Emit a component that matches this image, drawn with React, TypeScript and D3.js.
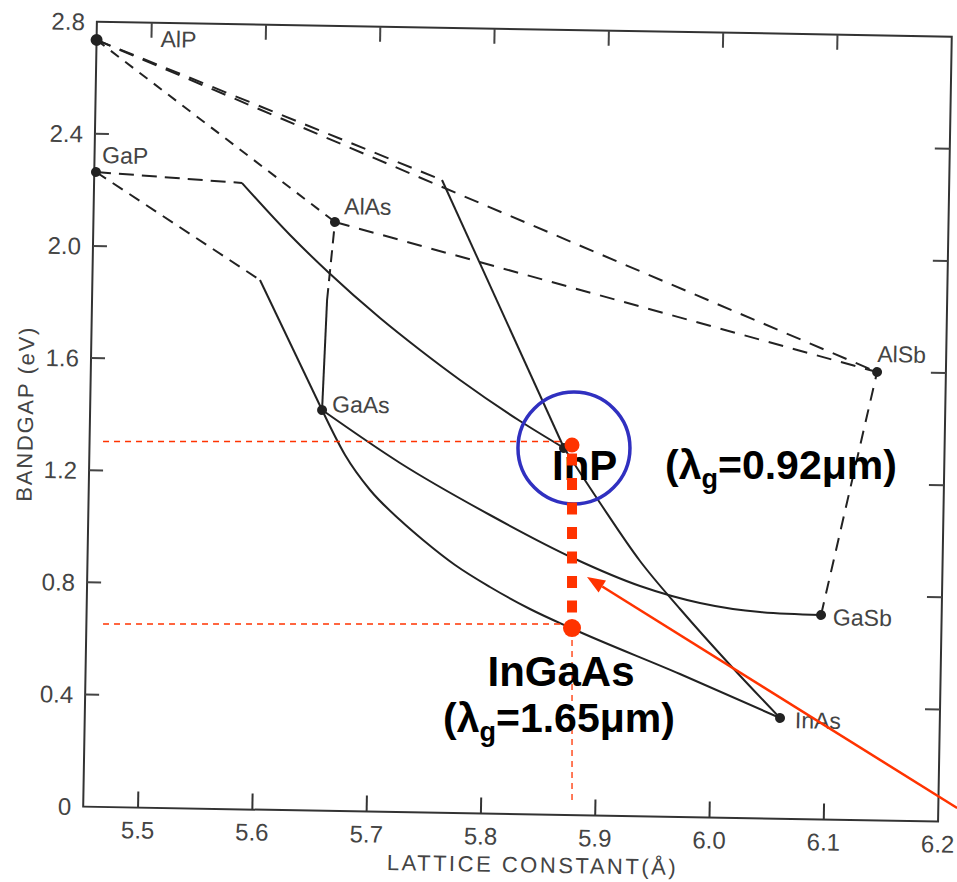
import React from "react";
import * as d3 from "d3";

// ---------- data (lattice constant in Å, bandgap in eV) ----------
const compoundNames = ["AlP", "GaP", "AlAs", "GaAs", "AlSb", "GaSb", "InAs", "InP"];
const compoundLattice = [5.452, 5.4535, 5.6633, 5.6549, 6.1398, 6.0945, 6.0602, 5.8671];
const compoundGap = [2.735, 2.264, 2.1006, 1.4293, 1.5993, 0.7293, 0.3594, 1.3088];

const xTickValues = [5.5, 5.6, 5.7, 5.8, 5.9, 6.0, 6.1, 6.2];
const xTickLabels = ["5.5", "5.6", "5.7", "5.8", "5.9", "6.0", "6.1", "6.2"];
const yTickValues = [0, 0.4, 0.8, 1.2, 1.6, 2.0, 2.4, 2.8];
const yTickLabels = ["0", "0.4", "0.8", "1.2", "1.6", "2.0", "2.4", "2.8"];

// ternary curves, [lattice, eV]
const AlP_AlSb = [[5.452, 2.735], [6.1398, 1.5993]];
const AlP_InP_indirect = [[5.452, 2.735], [5.7563, 2.257]];
const AlP_InP_direct = [[5.7563, 2.257], [5.8671, 1.3088]];
const AlP_AlAs = [[5.452, 2.735], [5.6633, 2.1006]];
const AlAs_AlSb = [[5.6633, 2.1006], [6.1398, 1.5993]];
const AlAs_GaAs_indirect = [[5.6633, 2.1006], [5.6576, 1.8219]];
const AlAs_GaAs_direct = [[5.6576, 1.8219], [5.6549, 1.4293]];
const AlSb_GaSb = [[6.1398, 1.5993], [6.0945, 0.7293]];
const GaP_InP_indirect = [[5.4535, 2.264], [5.5814, 2.2339]];
const GaP_InP_direct = [
  [5.5814, 2.2339], [5.6242, 2.0514], [5.658, 1.9218], [5.7042, 1.761],
  [5.7397, 1.6494], [5.7751, 1.5449], [5.8282, 1.4024], [5.8671, 1.3088],
];
const GaP_GaAs_indirect = [[5.4535, 2.264], [5.5986, 1.889]];
const GaP_GaAs_direct = [[5.5986, 1.889], [5.6549, 1.4293]];
const GaAs_InAs = [
  [5.6549, 1.4293], [5.6757, 1.2703], [5.6981, 1.147], [5.7248, 1.0418],
  [5.7452, 0.972], [5.7736, 0.8848], [5.8045, 0.8085], [5.8398, 0.7326],
  [5.8778, 0.6639], [5.972, 0.5101], [6.0602, 0.3594],
];
const GaAs_GaSb = [
  [5.6549, 1.4293], [5.7239, 1.2452], [5.8034, 1.0653], [5.8767, 0.9171],
  [5.9357, 0.8214], [5.9884, 0.7646], [6.0411, 0.7362], [6.0945, 0.7293],
];
const InP_InAs = [
  [5.8671, 1.3088], [5.8995, 1.1149], [5.9353, 0.9106], [5.9711, 0.7419],
  [6.0157, 0.5453], [6.0602, 0.3594],
];

// overlay annotation values
const markerLattice = 5.8737;
const markerGaps = [1.3162, 0.6634]; // InP, InGaAs
const guideGaps = [1.3287, 0.6777];
const guideLattice = [5.4634, 5.8676];
const dropGaps = [0.6206, 0.0499];
const circleCenter = [5.8754, 1.3055];
const arrowTail = [6.2106, 0.0214];
const arrowTip = [5.8868, 0.8453];

// ---------- layout / style ----------
const curves = [
  { pts: AlP_AlSb, dash: "15,10" },
  { pts: AlP_InP_indirect, dash: "15,10" },
  { pts: AlP_InP_direct, dash: null },
  { pts: AlP_AlAs, dash: "10,8" },
  { pts: AlAs_AlSb, dash: "15,10" },
  { pts: AlAs_GaAs_indirect, dash: "12,7" },
  { pts: AlAs_GaAs_direct, dash: null },
  { pts: AlSb_GaSb, dash: "13,9" },
  { pts: GaP_InP_indirect, dash: "15,8" },
  { pts: GaP_InP_direct, dash: null },
  { pts: GaP_GaAs_indirect, dash: "12,8" },
  { pts: GaP_GaAs_direct, dash: null },
  { pts: GaAs_InAs, dash: null },
  { pts: GaAs_GaSb, dash: null },
  { pts: InP_InAs, dash: null },
];

const labelOffsets: Record<string, [number, number]> = {
  AlP: [64, 6],
  GaP: [6, -9],
  AlAs: [9, -8],
  GaAs: [10, 2],
  AlSb: [0, -10],
  GaSb: [12, 10],
  InAs: [15, 10],
};

const RED = "#ff3300";
const INK = "#222";
const SCAN_TEXT = "#444";
const FONT = "'Liberation Sans', Arial, Helvetica, sans-serif";

export default function App() {
  const x = d3.scaleLinear().domain([5.452, 6.2]).range([90, 945]);
  const y = d3.scaleLinear().domain([0, 2.8]).range([814, 29]);

  const curveGen = (pts: number[][]) => {
    const sorted = pts[0][0] <= pts[pts.length - 1][0] ? pts : pts.slice().reverse();
    return (
      d3
        .line<number[]>()
        .x((d) => x(d[0]))
        .y((d) => y(d[1]))
        .curve(d3.curveMonotoneX)(sorted) || ""
    );
  };

  const x0 = x(5.452);
  const x1 = x(6.2);
  const yTop = y(2.8);
  const yBot = y(0);

  // arrow geometry
  const tx = x(arrowTip[0]);
  const ty = y(arrowTip[1]);
  const sx = x(arrowTail[0]);
  const sy = y(arrowTail[1]);
  const len = Math.hypot(tx - sx, ty - sy);
  const ux = (tx - sx) / len;
  const uy = (ty - sy) / len;
  const headLen = 18;
  const headHalf = 7;
  const bx = tx - ux * headLen;
  const by = ty - uy * headLen;
  const nx = -uy;
  const ny = ux;

  const mX = x(markerLattice);

  return (
    <svg
      width={957}
      height={882}
      style={{ position: "absolute", left: 0, top: 0, background: "#fff" }}
    >
      <rect x={0} y={0} width={957} height={882} fill="#fff" />
      {/* scanned chart, slightly rotated like the scan */}
      <g transform="rotate(1, 510, 420)">
        {/* frame */}
        <rect x={x0} y={yTop} width={x1 - x0} height={yBot - yTop} fill="none" stroke="#333" strokeWidth={2} />
        {/* ticks */}
        {xTickValues.slice(0, -1).map((v) => (
          <g key={"xt" + v}>
            <line x1={x(v)} x2={x(v)} y1={yBot} y2={yBot - 16} stroke="#333" strokeWidth={2} />
            <line x1={x(v)} x2={x(v)} y1={yTop} y2={yTop + 15} stroke="#444" strokeWidth={2} />
          </g>
        ))}
        {yTickValues.slice(1, -1).map((v) => (
          <g key={"yt" + v}>
            <line x1={x0} x2={x0 + 14} y1={y(v)} y2={y(v)} stroke="#444" strokeWidth={2} />
            <line x1={x1} x2={x1 - 15} y1={y(v)} y2={y(v)} stroke="#444" strokeWidth={2} />
          </g>
        ))}
        {/* tick labels */}
        {xTickValues.map((v, i) => (
          <text key={"xl" + v} x={x(v)} y={845} textAnchor="middle" fontFamily={FONT} fontSize={24} fill={SCAN_TEXT}>
            {xTickLabels[i]}
          </text>
        ))}
        {yTickValues.map((v, i) => (
          <text key={"yl" + v} x={78} y={y(v)} dy="0.36em" textAnchor="end" fontFamily={FONT} fontSize={24} fill={SCAN_TEXT}>
            {yTickLabels[i]}
          </text>
        ))}
        {/* axis titles */}
        <text x={539} y={872} textAnchor="middle" fontFamily={FONT} fontSize={22} fill={SCAN_TEXT} textLength={289} lengthAdjust="spacing">
          LATTICE CONSTANT(Å)
        </text>
        <text transform="translate(33,423) rotate(-90)" textAnchor="middle" fontFamily={FONT} fontSize={22} fill={SCAN_TEXT} textLength={174} lengthAdjust="spacing">
          BANDGAP (eV)
        </text>
        {/* curves */}
        {curves.map((c, i) => (
          <path
            key={"c" + i}
            d={curveGen(c.pts as number[][])}
            fill="none"
            stroke={INK}
            strokeWidth={2}
            strokeDasharray={c.dash || undefined}
          />
        ))}
        {/* compound points */}
        {compoundNames.map((n, i) => (
          <circle key={"p" + n} cx={x(compoundLattice[i])} cy={y(compoundGap[i])} r={n === "AlP" ? 6 : 5} fill={INK} />
        ))}
        {compoundNames.map((n, i) =>
          labelOffsets[n] ? (
            <text
              key={"lb" + n}
              x={x(compoundLattice[i]) + labelOffsets[n][0]}
              y={y(compoundGap[i]) + labelOffsets[n][1]}
              fontFamily={FONT}
              fontSize={23}
              fill={SCAN_TEXT}
            >
              {n}
            </text>
          ) : null
        )}
      </g>

      {/* ---------- overlay annotations ---------- */}
      {guideGaps.map((g, i) => (
        <line
          key={"gd" + i}
          x1={x(guideLattice[0])}
          x2={x(guideLattice[1])}
          y1={y(g)}
          y2={y(g)}
          stroke={RED}
          strokeWidth={1.3}
          strokeDasharray="6,5"
        />
      ))}
      <line x1={mX} x2={mX} y1={y(dropGaps[0])} y2={y(dropGaps[1])} stroke={RED} strokeWidth={1.3} strokeDasharray="6,5" />
      <circle cx={x(circleCenter[0])} cy={y(circleCenter[1])} r={56} fill="none" stroke="#3030c0" strokeWidth={3.5} />
      <text x={552} y={480} fontFamily={FONT} fontWeight="bold" fontSize={42} fill="#000">
        InP
      </text>
      <line x1={mX} x2={mX} y1={y(markerGaps[0]) + 8.5} y2={y(markerGaps[1])} stroke={RED} strokeWidth={10} strokeDasharray="12,12.5" />
      <circle cx={mX} cy={y(markerGaps[0])} r={7.5} fill={RED} />
      <circle cx={mX} cy={y(markerGaps[1])} r={9} fill={RED} />
      <text x={665} y={479} fontFamily={FONT} fontWeight="bold" fontSize={41} fill="#000">
        (λ<tspan dy={9} fontSize={27}>g</tspan>
        <tspan dy={-9}>=0.92μm)</tspan>
      </text>
      <text x={561} y={686} textAnchor="middle" fontFamily={FONT} fontWeight="bold" fontSize={42} fill="#000">
        InGaAs
      </text>
      <text x={443} y={732} fontFamily={FONT} fontWeight="bold" fontSize={41} fill="#000">
        (λ<tspan dy={9} fontSize={27}>g</tspan>
        <tspan dy={-9}>=1.65μm)</tspan>
      </text>
      <line x1={sx} y1={sy} x2={bx} y2={by} stroke={RED} strokeWidth={2.5} />
      <polygon
        points={`${tx},${ty} ${bx + nx * headHalf},${by + ny * headHalf} ${bx - nx * headHalf},${by - ny * headHalf}`}
        fill={RED}
      />
    </svg>
  );
}
